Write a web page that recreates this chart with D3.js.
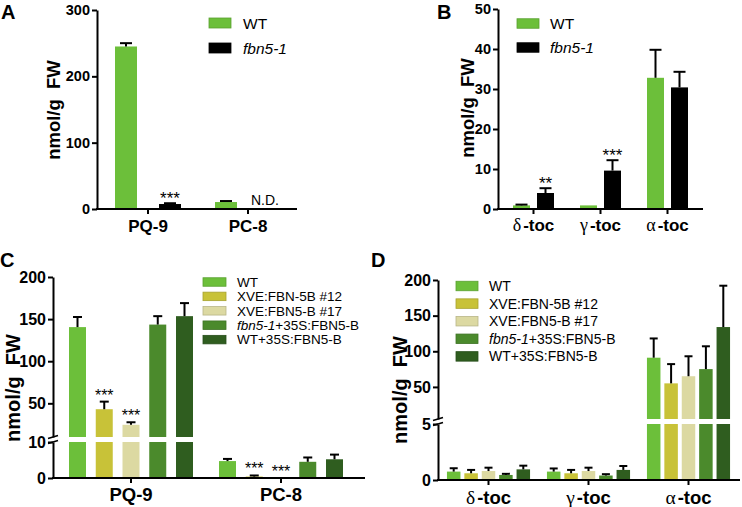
<!DOCTYPE html>
<html><head><meta charset="utf-8">
<script src="https://cdn.jsdelivr.net/npm/d3@7"></script>
<style>
body{margin:0;background:#fff}
svg{display:block}
text{font-family:"Liberation Sans",Arial,Helvetica,sans-serif}
</style>
</head><body>
<svg id="chart" width="742" height="507"></svg>
<script>
// ---------- DATA ----------
// Panel A
const catA = ["PQ-9", "PC-8"];
const seriesA = ["WT", "fbn5-1"];
const aWT = [245, 10.5];
const aWTErr = [5, 1.5];
const aFbn = [7.5, null];          // null = N.D.
const aFbnErr = [1.2, null];
const aTicks = [0, 100, 200, 300];

// Panel B
const catB = ["δ-toc", "γ-toc", "α-toc"];
const seriesB = ["WT", "fbn5-1"];
const bWT = [0.9, 0.9, 32.8];
const bWTErr = [0.2, 0, 7.0];
const bFbn = [4.0, 9.6, 30.4];
const bFbnErr = [1.2, 2.6, 3.9];
const bTicks = [0, 10, 20, 30, 40, 50];

// Panels C and D
const seriesCD = ["WT", "XVE:FBN-5B #12", "XVE:FBN5-B #17", "fbn5-1+35S:FBN5-B", "WT+35S:FBN5-B"];
const colorsAB = ["#6cbf3a", "#000000"];
const colorsCD = ["#6cbf3a", "#c8c238", "#dcd9a2", "#4b8a2c", "#2f5d1f"];

// Panel C
const catC = ["PQ-9", "PC-8"];
const cWT = [140.5, 4.7],  cWTErr = [12, 0.6];
const cX12 = [43, 0.4],    cX12Err = [9, 0.3];
const cX17 = [24.5, 0],    cX17Err = [3, 0];
const cFbn = [143.5, 4.5], cFbnErr = [10, 1.2];
const cWT35 = [153.5, 5.2], cWT35Err = [15.5, 1.3];
const cTicksLow = [0, 10];
const cTicksHigh = [50, 100, 150, 200];

// Panel D
const catD = ["δ-toc", "γ-toc", "α-toc"];
const dWT = [0.75, 0.75, 91],  dWTErr = [0.3, 0.28, 27];
const dX12 = [0.6, 0.6, 55],   dX12Err = [0.3, 0.3, 27];
const dX17 = [0.8, 0.8, 65],   dX17Err = [0.3, 0.3, 28];
const dFbn = [0.45, 0.4, 75],  dFbnErr = [0.1, 0.12, 32];
const dWT35 = [0.95, 0.9, 134], dWT35Err = [0.33, 0.35, 58];
const dTicksLow = [0, 5];
const dTicksHigh = [50, 100, 150, 200];

// Significance annotations [category, series index, label]
const starsA = [["PQ-9", 1, "***"]];
const starsB = [["δ-toc", 1, "**"], ["γ-toc", 1, "***"]];
const starsC = [["PQ-9", 1, "***"], ["PQ-9", 2, "***"], ["PC-8", 1, "***"], ["PC-8", 2, "***"]];

// ---------- DRAWING ----------
const svg = d3.select("#chart");

function addName(t, name) {
  if (name.startsWith("fbn5-1")) {
    t.append("tspan").attr("font-style", "italic").text("fbn5-1");
    const rest = name.slice(6);
    if (rest) t.append("tspan").text(rest);
  } else t.text(name);
}

function makeY(def) {
  if (!def.broken) {
    const s = d3.scaleLinear().domain(def.domain).range(def.range);
    return { f: v => s(v), segs: [{ s, ticks: def.ticks }] };
  }
  const lo = d3.scaleLinear().domain([0, def.brk]).range(def.lowRange);
  const hi = d3.scaleLinear().domain([def.brk, def.max]).range(def.highRange);
  return { f: v => (v <= def.brk ? lo(v) : hi(v)), lo, hi, brk: def.brk,
           segs: [{ s: lo, ticks: def.lowTicks }, { s: hi, ticks: def.highTicks }] };
}

function panel(cfg) {
  const g = svg.append("g");
  const y = makeY(cfg.y);
  const x = d3.scaleBand().domain(cfg.cats).range(cfg.xRange).padding(0);
  const n = cfg.series.length;
  const p = 1 - cfg.barW / cfg.step;
  const groupW = cfg.step * (n - p);

  cfg.cats.forEach((c, i) => {
    const cx = x(c) + x.bandwidth() / 2;
    const inner = d3.scaleBand().domain(d3.range(n))
      .range([cx - groupW / 2, cx + groupW / 2]).paddingInner(p).paddingOuter(0);
    cfg.values.forEach((vals, j) => {
      const v = vals[i];
      if (v == null) return;
      const bx = inner(j), bw = inner.bandwidth();
      if (y.brk == null) {
        g.append("rect").attr("x", bx).attr("width", bw)
          .attr("y", y.f(v)).attr("height", y.f(0) - y.f(v)).attr("fill", cfg.colors[j]);
      } else {
        const vl = Math.min(v, y.brk);
        g.append("rect").attr("x", bx).attr("width", bw)
          .attr("y", y.lo(vl)).attr("height", y.lo(0) - y.lo(vl)).attr("fill", cfg.colors[j]);
        if (v > y.brk) {
          g.append("rect").attr("x", bx).attr("width", bw)
            .attr("y", y.hi(v)).attr("height", y.hi(y.brk) - y.hi(v)).attr("fill", cfg.colors[j]);
        }
      }
      const e = cfg.errs[j][i];
      if (e) {
        const mx = bx + bw / 2, yt = y.f(v + e);
        g.append("line").attr("x1", mx).attr("x2", mx).attr("y1", y.f(v)).attr("y2", yt)
          .attr("stroke", "#000").attr("stroke-width", 2);
        g.append("line").attr("x1", mx - cfg.capW / 2).attr("x2", mx + cfg.capW / 2)
          .attr("y1", yt).attr("y2", yt).attr("stroke", "#000").attr("stroke-width", 2);
      }
    });
    (cfg.stars || []).filter(s => s[0] === c).forEach(s => {
      const j = s[1], v = cfg.values[j][i] || 0, e = cfg.errs[j][i] || 0;
      const mx = inner(j) + inner.bandwidth() / 2;
      g.append("text").attr("x", mx).attr("y", y.f(v + e) + cfg.starOff)
        .attr("text-anchor", "middle").attr("font-size", cfg.starSize).text(s[2]);
    });
    (cfg.nd || []).filter(s => s[0] === c).forEach(s => {
      const mx = inner(s[1]) + inner.bandwidth() / 2;
      g.append("text").attr("x", mx - 5).attr("y", y.f(0) - 4)
        .attr("text-anchor", "middle").attr("font-size", 14).text("N.D.");
    });
  });

  // y axis
  y.segs.forEach(seg => {
    const ax = d3.axisLeft(seg.s).tickValues(seg.ticks).tickSize(5).tickSizeOuter(0)
      .tickPadding(2).tickFormat(d3.format("d"));
    const ag = g.append("g").attr("transform", `translate(${cfg.yAxisX},0)`).call(ax);
    ag.select(".domain").attr("stroke-width", 2).attr("stroke", "#000");
    ag.selectAll(".tick line").attr("stroke-width", 2).attr("stroke", "#000");
    ag.selectAll(".tick text").attr("font-size", cfg.tickSize).attr("font-weight", "bold")
      .attr("fill", "#000").attr("font-family", '"Liberation Sans",Arial,sans-serif');
  });
  if (y.brk != null) {
    [y.hi(y.brk), y.lo(y.brk)].forEach(yy => {
      g.append("line").attr("x1", cfg.yAxisX - 5).attr("x2", cfg.yAxisX + 5)
        .attr("y1", yy + 1.5).attr("y2", yy - 1.5).attr("stroke", "#000").attr("stroke-width", 1.6);
    });
  }

  // x axis
  const y0 = y.f(0);
  g.append("line").attr("x1", cfg.yAxisX - 1).attr("x2", cfg.xAxisEnd).attr("y1", y0).attr("y2", y0)
    .attr("stroke", "#000").attr("stroke-width", 2);
  cfg.cats.forEach(c => {
    const cx = x(c) + x.bandwidth() / 2;
    g.append("line").attr("x1", cx).attr("x2", cx).attr("y1", y0).attr("y2", y0 + 5)
      .attr("stroke", "#000").attr("stroke-width", 2);
    const t = g.append("text").attr("x", cx).attr("y", y0 + cfg.xLabOff).attr("text-anchor", "middle")
      .attr("font-size", cfg.xLabSize).attr("font-weight", "bold");
    const m = c.match(/^([δγα])(.*)$/);
    if (m) {
      t.append("tspan").attr("font-family", '"Liberation Serif","DejaVu Serif",serif')
        .attr("font-weight", "normal").attr("font-size", cfg.xLabSize + 1).text(m[1]);
      t.append("tspan").attr("dx", 2).text(m[2]);
    } else t.text(c);
  });

  // y label
  g.append("text").attr("transform", `translate(${cfg.yLabel[0]},${cfg.yLabel[1]}) rotate(-90)`)
    .attr("text-anchor", "middle").attr("font-size", cfg.yLabSize).attr("font-weight", "bold")
    .attr("xml:space", "preserve").text("nmol/g  FW");

  // panel letter
  g.append("text").attr("x", cfg.letter[1]).attr("y", cfg.letter[2]).attr("font-size", 20)
    .attr("font-weight", "bold").text(cfg.letter[0]);

  // legend
  const L = cfg.legend;
  cfg.series.forEach((s, j) => {
    const cy = L.y0 + j * L.dy;
    g.append("rect").attr("x", L.x).attr("y", cy - L.h / 2).attr("width", L.w).attr("height", L.h)
      .attr("fill", cfg.colors[j])
      .attr("stroke", d3.color(cfg.colors[j]).darker(0.5)).attr("stroke-width", 0.8);
    const t = g.append("text").attr("x", L.tx).attr("y", cy + L.fs * 0.36)
      .attr("font-size", L.fs);
    addName(t, s);
  });
}

panel({
  cats: catA, series: seriesA, values: [aWT, aFbn], errs: [aWTErr, aFbnErr], colors: colorsAB,
  y: { domain: [0, 300], range: [209, 10], ticks: aTicks },
  xRange: [98, 298], xAxisEnd: 297, yAxisX: 97, barW: 22, step: 44, capW: 12,
  tickSize: 14.5, stars: starsA, starOff: 1, starSize: 17, nd: [["PC-8", 1]],
  xLabSize: 17, xLabOff: 23, yLabSize: 18.5,
  yLabel: [60, 110], letter: ["A", 1, 19],
  legend: { x: 209, y0: 23, dy: 25, w: 22, h: 10, tx: 243, fs: 15.5 }
});

panel({
  cats: catB, series: seriesB, values: [bWT, bFbn], errs: [bWTErr, bFbnErr], colors: colorsAB,
  y: { domain: [0, 50], range: [209, 9], ticks: bTicks },
  xRange: [500, 701], xAxisEnd: 703, yAxisX: 498, barW: 17, step: 24, capW: 12,
  tickSize: 14.5, stars: starsB, starOff: 1, starSize: 17,
  xLabSize: 17, xLabOff: 22, yLabSize: 18.5,
  yLabel: [474, 108], letter: ["B", 437, 19],
  legend: { x: 517, y0: 23.5, dy: 24, w: 22, h: 9.5, tx: 550, fs: 15.5 }
});

panel({
  cats: catC, series: seriesCD, values: [cWT, cX12, cX17, cFbn, cWT35],
  errs: [cWTErr, cX12Err, cX17Err, cFbnErr, cWT35Err], colors: colorsCD,
  y: { broken: true, brk: 10, max: 200, lowRange: [478, 442], highRange: [437, 277],
       lowTicks: cTicksLow, highTicks: cTicksHigh },
  xRange: [56, 356], xAxisEnd: 365, yAxisX: 53, barW: 17, step: 26.75, capW: 9,
  tickSize: 16, stars: starsC, starOff: -1, starSize: 16,
  xLabSize: 18.5, xLabOff: 23, yLabSize: 20,
  yLabel: [20, 388], letter: ["C", 0, 267],
  legend: { x: 203, y0: 282, dy: 14.4, w: 23, h: 8.5, tx: 237, fs: 13.5 }
});

panel({
  cats: catD, series: seriesCD, values: [dWT, dX12, dX17, dFbn, dWT35],
  errs: [dWTErr, dX12Err, dX17Err, dFbnErr, dWT35Err], colors: colorsCD,
  y: { broken: true, brk: 5, max: 200, lowRange: [480, 424], highRange: [419, 280],
       lowTicks: dTicksLow, highTicks: dTicksHigh },
  xRange: [438.5, 738.5], xAxisEnd: 740, yAxisX: 438, barW: 13.5, step: 17.4, capW: 8,
  tickSize: 16, xLabSize: 18.5, xLabOff: 24, yLabSize: 20,
  yLabel: [407, 390], letter: ["D", 371, 267],
  legend: { x: 456, y0: 286, dy: 17.6, w: 22, h: 9.5, tx: 489, fs: 14 }
});
</script>
</body></html>
